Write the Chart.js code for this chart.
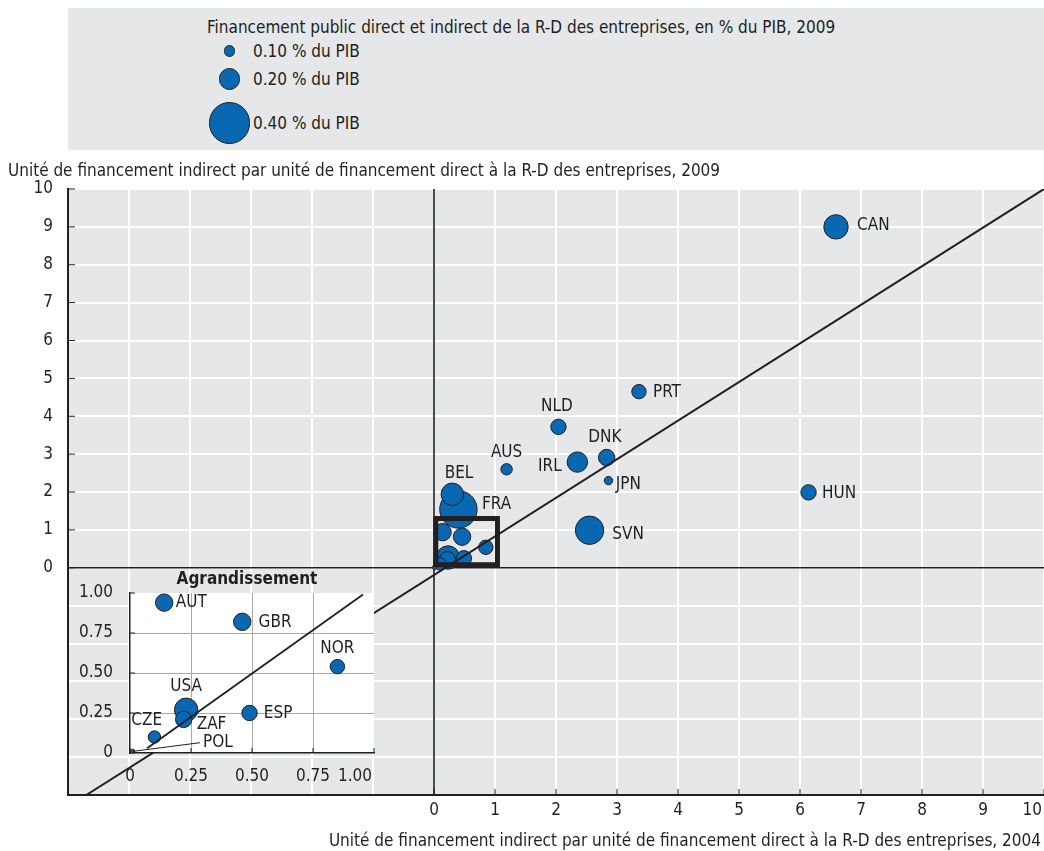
<!DOCTYPE html>
<html>
<head>
<meta charset="utf-8">
<script src="https://cdn.jsdelivr.net/npm/chart.js@4.4.0/dist/chart.umd.min.js"></script>
<style>
  body { margin:0; width:1044px; height:851px; position:relative; overflow:hidden; background:#fff;
         font-family:"Liberation Sans Narrow","DejaVu Sans Condensed",sans-serif; color:#231f20; }
  canvas { position:absolute; }
  #main { left:0; top:0; }
  #inset { left:68px; top:567px; }
  .txt { position:absolute; white-space:nowrap; font-size:17px; line-height:20px; }
  #legend { position:absolute; left:68px; top:8px; width:976px; height:142px; background:#e6e7e8; }
  .dot { position:absolute; background:#0a67b2; border:1px solid #231f20; border-radius:50%; box-sizing:border-box; }
</style>
</head>
<body>
<canvas id="main" width="1044" height="851"></canvas>
<canvas id="inset" width="312" height="228"></canvas>
<div id="legend"></div>
<div class="txt" id="ytitle" style="left:8px;top:160px"></div>
<div class="txt" id="xtitle" style="right:3px;top:830px"></div>
<script>
// ---- data ---------------------------------------------------------------
// Indirect funding per unit of direct funding of business R&D (2004, 2009)
// and total public support to business R&D in % of GDP (bubble size).
const countries      = ['CAN', 'PRT', 'NLD', 'DNK', 'IRL', 'AUS', 'JPN', 'BEL', 'FRA', 'SVN', 'HUN'];
const ratio2004      = [6.59, 3.36, 2.04, 2.83, 2.35, 1.19, 2.86, 0.30, 0.40, 2.55, 6.14];
const ratio2009      = [9.00, 4.65, 3.72, 2.91, 2.79, 2.60, 2.30, 1.94, 1.54, 0.99, 1.99];
const supportPctGdp  = [0.23, 0.13, 0.14, 0.15, 0.19, 0.10, 0.07, 0.21, 0.36, 0.27, 0.14];

// Countries close to the origin, shown in the enlargement panel
const zoomCountries     = ['AUT', 'GBR', 'NOR', 'USA', 'ZAF', 'ESP', 'CZE', 'POL'];
const zoomRatio2004     = [0.14, 0.46, 0.85, 0.23, 0.22, 0.49, 0.10, 0.01];
const zoomRatio2009     = [0.94, 0.82, 0.54, 0.27, 0.21, 0.25, 0.10, 0.01];
const zoomSupportPctGdp = [0.16, 0.16, 0.13, 0.22, 0.15, 0.14, 0.11, 0.03];

// Bubble size legend
const legendValues = [0.10, 0.20, 0.40];
const legendLabels = ['0.10 % du PIB', '0.20 % du PIB', '0.40 % du PIB'];
const legendTitle  = 'Financement public direct et indirect de la R-D des entreprises, en % du PIB, 2009';

// Axis ticks and titles
const mainTicks  = [0, 1, 2, 3, 4, 5, 6, 7, 8, 9, 10];
const zoomTicks  = [0, 0.25, 0.5, 0.75, 1];
const zoomTickLabels = ['0', '0.25', '0.50', '0.75', '1.00'];
const yTitle = 'Unité de financement indirect par unité de financement direct à la R-D des entreprises, 2009';
const xTitle = 'Unité de financement indirect par unité de financement direct à la R-D des entreprises, 2004';
const zoomTitle = 'Agrandissement';

// Reference lines (equal ratio in both years) and the zoomed window
const diagonal     = [{x: -5.7, y: -6}, {x: 10, y: 10}];
const zoomDiagonal = [{x: 0.07, y: 0.03}, {x: 0.955, y: 0.99}];
const zoomWindowX  = [0.03, 1.04];
const zoomWindowY  = [0.08, 1.30];

// ---- styling ------------------------------------------------------------
const FONT  = '"Liberation Sans Narrow","DejaVu Sans Condensed",sans-serif';
const INK   = '#231f20';
const BLUE  = '#0a67b2';
const PANEL = '#e6e7e8';
const bubbleRadius = v => v * 50 + 0.7;

// label placement relative to the bubble centre: [align, dx, dy]
const labelPlacement = {
  CAN: ['left', 21, -1],   PRT: ['left', 14, 0.5],   NLD: ['center', -1.6, -20],
  DNK: ['center', -1.7, -20], IRL: ['right', -15.6, 4], AUS: ['center', 0, -17],
  JPN: ['left', 7.4, 4.3], BEL: ['center', 6.7, -20.6], FRA: ['left', 23.5, -5],
  SVN: ['left', 22.7, 4.7], HUN: ['left', 13.5, 1.5],
  AUT: ['left', 11.7, 0],  GBR: ['left', 16.3, 1],   NOR: ['center', 0, -18],
  USA: ['center', 0, -23.3], ZAF: ['left', 13, 5],   ESP: ['left', 14.3, 0.7],
  CZE: ['center', -7.7, -16.7], POL: ['left', 70.6, -8.7]
};

function makeBubbles(names, xs, ys, vals) {
  return names.map((n, i) => ({x: xs[i], y: ys[i], r: bubbleRadius(vals[i]), name: n}))
              .sort((a, b) => b.r - a.r);
}
const mainBubbles = makeBubbles(countries, ratio2004, ratio2009, supportPctGdp);
const zoomBubbles = makeBubbles(zoomCountries, zoomRatio2004, zoomRatio2009, zoomSupportPctGdp);

function drawLabels(chart, datasetIndex, names) {
  const ctx = chart.ctx;
  const meta = chart.getDatasetMeta(datasetIndex);
  ctx.save();
  ctx.font = '17px ' + FONT;
  ctx.fillStyle = INK;
  ctx.textBaseline = 'middle';
  meta.data.forEach((el, i) => {
    const d = chart.data.datasets[datasetIndex].data[i];
    if (!names.includes(d.name)) return;
    const p = labelPlacement[d.name];
    ctx.textAlign = p[0];
    ctx.fillText(d.name, el.x + p[1], el.y + p[2]);
    if (d.name === 'POL') {
      ctx.strokeStyle = INK; ctx.lineWidth = 1;
      ctx.beginPath(); ctx.moveTo(el.x, el.y); ctx.lineTo(el.x + p[1] - 3, el.y + p[2]); ctx.stroke();
    }
  });
  ctx.restore();
}

// ---- main chart -----------------------------------------------------------
const mainDecor = {
  id: 'mainDecor',
  beforeDraw(chart) {
    const {ctx, chartArea: a} = chart;
    ctx.save(); ctx.fillStyle = PANEL;
    ctx.fillRect(a.left, a.top, a.right - a.left, a.bottom - a.top);
    ctx.restore();
  },
  beforeDatasetsDraw(chart) {
    const {ctx, chartArea: a, scales: {x, y}} = chart;
    ctx.save();
    ctx.strokeStyle = INK; ctx.lineWidth = 1.6;
    const x0 = x.getPixelForValue(0), y0 = y.getPixelForValue(0);
    ctx.beginPath();
    ctx.moveTo(x0, a.top); ctx.lineTo(x0, a.bottom);
    ctx.moveTo(a.left, y0); ctx.lineTo(a.right, y0);
    ctx.stroke();
    // tick marks on both axes
    ctx.lineWidth = 1;
    ctx.beginPath();
    mainTicks.forEach(v => {
      const py = y.getPixelForValue(v), px = x.getPixelForValue(v);
      ctx.moveTo(a.left, py); ctx.lineTo(a.left + 7, py);
      ctx.moveTo(px, a.bottom); ctx.lineTo(px, a.bottom - 6);
    });
    ctx.stroke();
    ctx.restore();
  },
  afterDatasetsDraw(chart) {
    const {ctx, chartArea: a, scales: {x, y}} = chart;
    drawLabels(chart, 1, countries);
    ctx.save();
    ctx.strokeStyle = INK; ctx.lineWidth = 5;
    const l = x.getPixelForValue(zoomWindowX[0]), r = x.getPixelForValue(zoomWindowX[1]);
    const t = y.getPixelForValue(zoomWindowY[1]), b = y.getPixelForValue(zoomWindowY[0]);
    ctx.strokeRect(l, t, r - l, b - t);
    // tick labels
    ctx.font = '17px ' + FONT; ctx.fillStyle = INK; ctx.textBaseline = 'middle';
    ctx.textAlign = 'right';
    mainTicks.forEach(v => ctx.fillText(String(v), a.left - 15, y.getPixelForValue(v)));
    mainTicks.forEach((v, i) => {
      const last = i === mainTicks.length - 1;
      ctx.textAlign = last ? 'right' : 'center';
      ctx.fillText(String(v), last ? a.right - 2 : x.getPixelForValue(v), a.bottom + 16);
    });
    ctx.restore();
  }
};

new Chart(document.getElementById('main'), {
  type: 'bubble',
  data: {
    datasets: [
      {type: 'line', data: diagonal, borderColor: INK, borderWidth: 2, pointRadius: 0, fill: false, order: 0},
      {type: 'bubble', data: mainBubbles.concat(zoomBubbles).sort((a, b) => b.r - a.r),
       backgroundColor: BLUE, borderColor: INK, borderWidth: 1, order: 1}
    ]
  },
  options: {
    responsive: false, animation: false, events: [],
    layout: {autoPadding: false, padding: {left: 68, top: 189, right: 0, bottom: 56}},
    plugins: {legend: {display: false}, tooltip: {enabled: false}},
    scales: {
      x: {type: 'linear', min: -6, max: 10, ticks: {stepSize: 1, display: false},
          grid: {color: '#ffffff', lineWidth: 2, drawTicks: false},
          border: {display: true, color: INK, width: 2}},
      y: {type: 'linear', min: -6, max: 10, ticks: {stepSize: 1, display: false},
          grid: {color: '#ffffff', lineWidth: 2, drawTicks: false},
          border: {display: true, color: INK, width: 2}}
    }
  },
  plugins: [mainDecor]
});

// ---- enlargement panel ---------------------------------------------------
const insetDecor = {
  id: 'insetDecor',
  beforeDraw(chart) {
    const {ctx, chartArea: a} = chart;
    ctx.save(); ctx.fillStyle = '#ffffff';
    ctx.fillRect(a.left, a.top, a.right - a.left, a.bottom - a.top);
    ctx.restore();
  },
  afterDatasetsDraw(chart) {
    const {ctx, chartArea: a, scales: {x, y}} = chart;
    drawLabels(chart, 1, zoomCountries);
    ctx.save();
    ctx.strokeStyle = INK; ctx.lineWidth = 1;
    ctx.beginPath();
    zoomTicks.forEach(v => {
      const px = x.getPixelForValue(v), py = y.getPixelForValue(v);
      ctx.moveTo(px, a.bottom); ctx.lineTo(px, a.bottom - 5);
      ctx.moveTo(a.left, py); ctx.lineTo(a.left + 5, py);
    });
    ctx.stroke();
    ctx.font = '17px ' + FONT; ctx.fillStyle = INK; ctx.textBaseline = 'middle';
    ctx.textAlign = 'right';
    zoomTicks.forEach((v, i) => ctx.fillText(zoomTickLabels[i], a.left - 17, y.getPixelForValue(v)));
    zoomTicks.forEach((v, i) => {
      const last = i === zoomTicks.length - 1;
      ctx.textAlign = last ? 'right' : 'center';
      ctx.fillText(zoomTickLabels[i], last ? a.right - 2 : x.getPixelForValue(v), a.bottom + 24);
    });
    ctx.font = 'bold 17px ' + FONT; ctx.textAlign = 'center';
    ctx.fillText(zoomTitle, (a.left + a.right) / 2 - 5, a.top - 13);
    ctx.restore();
  }
};

const zoomGrid = c => (c.tick.value > 0 && c.tick.value < 1) ? '#a7a9ac' : 'rgba(0,0,0,0)';
new Chart(document.getElementById('inset'), {
  type: 'bubble',
  data: {
    datasets: [
      {type: 'line', data: zoomDiagonal, borderColor: INK, borderWidth: 1.8, pointRadius: 0, fill: false, order: 0},
      {type: 'bubble', data: zoomBubbles, backgroundColor: BLUE, borderColor: INK, borderWidth: 1, order: 1}
    ]
  },
  options: {
    responsive: false, animation: false, events: [],
    layout: {autoPadding: false, padding: {left: 62, top: 26, right: 6, bottom: 42}},
    plugins: {legend: {display: false}, tooltip: {enabled: false}},
    scales: {
      x: {type: 'linear', min: 0, max: 1, ticks: {stepSize: 0.25, display: false},
          grid: {color: zoomGrid, lineWidth: 1, drawTicks: false},
          border: {display: true, color: INK, width: 1.5}},
      y: {type: 'linear', min: 0, max: 1, ticks: {stepSize: 0.25, display: false},
          grid: {color: zoomGrid, lineWidth: 1, drawTicks: false},
          border: {display: true, color: INK, width: 1.5}}
    }
  },
  plugins: [insetDecor]
});

// ---- titles and bubble-size legend ----------------------------------------
document.getElementById('ytitle').textContent = yTitle;
document.getElementById('xtitle').textContent = xTitle;

const legend = document.getElementById('legend');
const legendRowY = [43, 71, 115];
const head = document.createElement('div');
head.className = 'txt'; head.style.left = '139px'; head.style.top = '9px';
head.textContent = legendTitle;
legend.appendChild(head);
legendValues.forEach((v, i) => {
  const r = bubbleRadius(v);
  const dot = document.createElement('div');
  dot.className = 'dot';
  dot.style.width = dot.style.height = (2 * r) + 'px';
  dot.style.left = (161.5 - r) + 'px';
  dot.style.top = (legendRowY[i] - r) + 'px';
  legend.appendChild(dot);
  const t = document.createElement('div');
  t.className = 'txt'; t.style.left = '185px'; t.style.top = (legendRowY[i] - 10) + 'px';
  t.textContent = legendLabels[i];
  legend.appendChild(t);
});
</script>
</body>
</html>
